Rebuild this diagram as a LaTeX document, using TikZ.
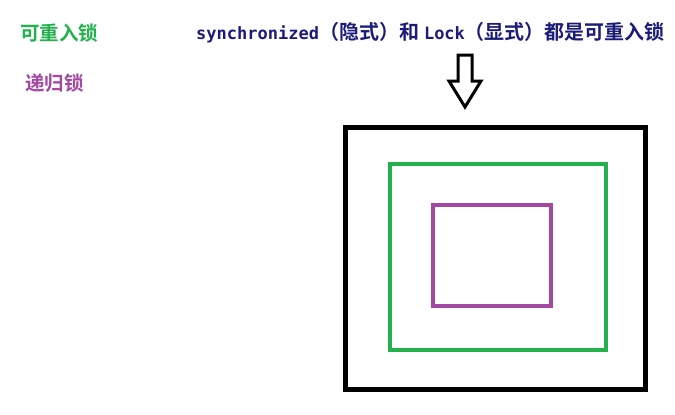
\documentclass[tikz,border=0pt]{standalone}
\usepackage{fontspec}
\newfontfamily\cjk{Noto Sans CJK SC Bold}
\newfontfamily\mono{DejaVu Sans Mono Bold}
\definecolor{pgreen}{RGB}{34,177,76}
\definecolor{ppurple}{RGB}{163,73,164}
\definecolor{pnavy}{RGB}{28,28,120}
\begin{document}
\begin{tikzpicture}[x=1pt,y=-1pt,
  lbl/.style={inner sep=0pt, anchor=west},
  frame/.style={line width=#1, line join=miter}]
\useasboundingbox (0,0) rectangle (675,415);
% labels
\node[lbl, text=pgreen] (t1) at (20,33) {\fontsize{19.5}{19.5}\cjk 可重入锁};
\node[lbl, text=ppurple] (t2) at (25,83) {\fontsize{19.5}{19.5}\cjk 递归锁};
\node[lbl, text=pnavy] (t3) at (196,33) {\fontsize{17}{17}\mono synchronized\cjk\fontsize{20}{20}\selectfont （隐式）和\hspace{5pt}\mono\fontsize{17}{17}\selectfont Lock\cjk\fontsize{20}{20}\selectfont （显式）都是可重入锁};
% hollow arrow
\draw[line width=3pt, line join=miter] (458,55) -- (472,55) -- (472,81) -- (481,81) -- (465,107) -- (449,81) -- (458,81) -- cycle;
% boxes
\draw[frame=5pt, black] (345.5,127.5) rectangle (645.5,389.5);
\draw[frame=4pt, pgreen] (390,164) rectangle (606,350);
\draw[frame=4pt, ppurple] (433,205) rectangle (551,306);
\end{tikzpicture}
\end{document}
